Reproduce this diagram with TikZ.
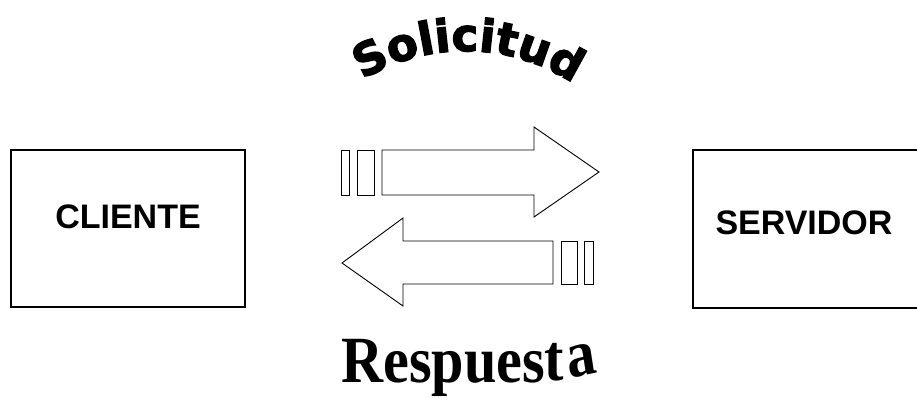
\documentclass[tikz,border=0pt]{standalone}
\usepackage{fontspec}
\setmainfont{Liberation Serif}
\newfontfamily\boxfont{Liberation Sans}
\newfontfamily\solfont[FakeBold=3]{DejaVu Sans Bold}
\usetikzlibrary{decorations.text}
\begin{document}
\begin{tikzpicture}[x=1pt,y=1pt,
  boxshape/.style={draw,line width=1.4pt},
  boxlabel/.style={font=\boxfont\bfseries\fontsize{34}{38}\selectfont,inner sep=0pt},
  arrowshape/.style={draw,line width=0.9pt,line join=miter},
]
\useasboundingbox (0,0) rectangle (917,397);
% boxes
\draw[boxshape] (11,90) rectangle (245,247);
\node[boxlabel] (cliente) at (128,180) {CLIENTE};
\draw[boxshape] (693,89) rectangle (930,247);
\node[boxlabel] (servidor) at (804,174) {SERVIDOR};
% upper arrow (Solicitud)
\draw[arrowshape] (382,247) -- (534,247) -- (534,270) -- (599,225) -- (534,180) -- (534,202) -- (382,202) -- cycle;
\draw[arrowshape] (341,202) rectangle (349,247);
\draw[arrowshape] (357,202) rectangle (374,247);
% lower arrow (Respuesta)
\draw[arrowshape] (553,156) -- (403,156) -- (403,179) -- (342,134) -- (403,91) -- (403,113) -- (553,113) -- cycle;
\draw[arrowshape] (561,113) rectangle (577,156);
\draw[arrowshape] (584,113) rectangle (593,156);
% Solicitud along an arc
\path[decorate,decoration={text along path,text align=center,
  text={|\solfont\fontsize{45}{50}\selectfont|Solicitud}}]
  (465,150) ++(126:196) arc[start angle=126,end angle=52,radius=196];
% Respuesta
\node[anchor=base west,inner sep=0pt,xscale=0.97,yscale=1.1] (respuesta) at (341,15)
  {\bfseries\fontsize{60}{66}\selectfont Respues\raisebox{1pt}{t}\raisebox{3pt}{\rotatebox{10}{a}}};
\end{tikzpicture}
\end{document}
